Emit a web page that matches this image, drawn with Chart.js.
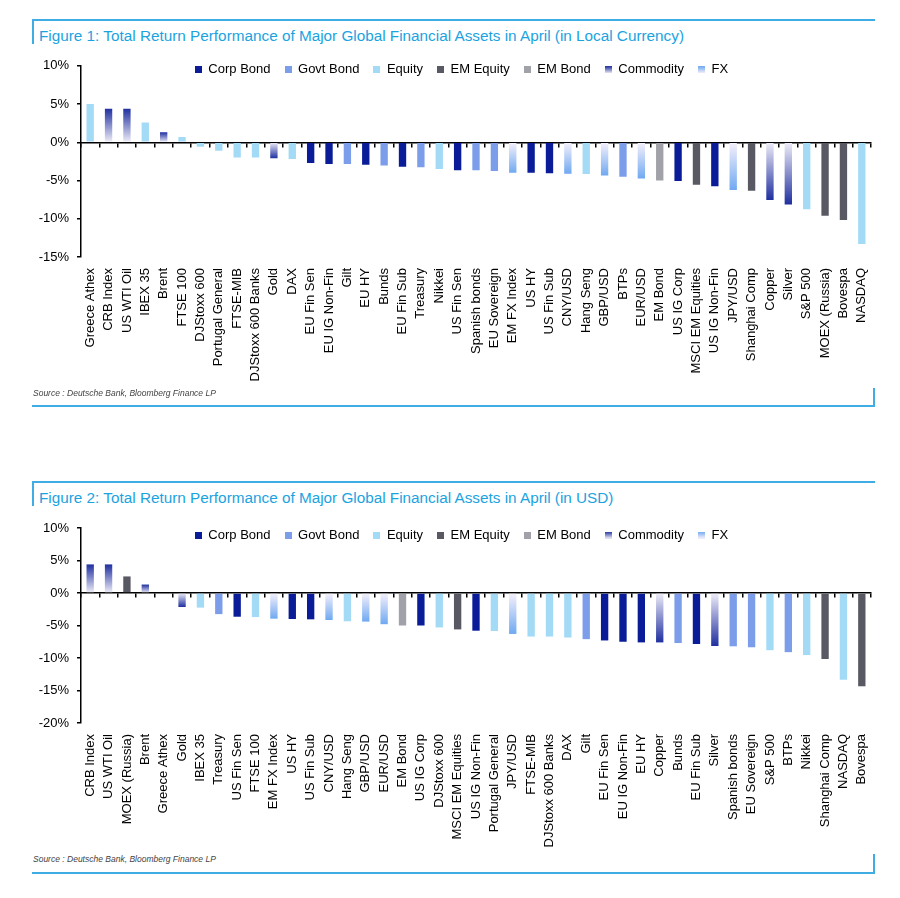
<!DOCTYPE html>
<html>
<head>
<meta charset="utf-8">
<script src="https://cdn.jsdelivr.net/npm/chart.js@4.4.1/dist/chart.umd.min.js"></script>
<style>
  body { margin: 0; background: #fff; width: 900px; height: 898px; position: relative; overflow: hidden; font-family: "Liberation Sans", Arial, sans-serif; }
  .hline { position: absolute; left: 32px; width: 843px; height: 0; border-top: 2px solid #3fade3; }
  .vline { position: absolute; width: 0; border-left: 2px solid #3fade3; }
  .title { position: absolute; left: 39px; font-size: 15.3px; line-height: 17px; color: #1ba3df; white-space: nowrap; }
  .source { position: absolute; left: 33px; font-size: 8.5px; line-height: 10px; font-style: italic; color: #444; white-space: nowrap; }
  canvas { position: absolute; left: 0; }
</style>
</head>
<body>

<div class="hline" style="top:19px"></div>
<div class="vline" style="left:32px; top:19px; height:25px"></div>
<div class="title" style="top:27px">Figure 1: Total Return Performance of Major Global Financial Assets in April (in Local Currency)</div>
<canvas id="localChart" width="900" height="340" style="top:50px"></canvas>
<div class="source" style="top:388px">Source : Deutsche Bank, Bloomberg Finance LP</div>
<div class="vline" style="left:873px; top:388px; height:19px"></div>
<div class="hline" style="top:405px"></div>

<div class="hline" style="top:481px"></div>
<div class="vline" style="left:32px; top:481px; height:25px"></div>
<div class="title" style="top:489px">Figure 2: Total Return Performance of Major Global Financial Assets in April (in USD)</div>
<canvas id="usdChart" width="900" height="340" style="top:512px"></canvas>
<div class="source" style="top:854px">Source : Deutsche Bank, Bloomberg Finance LP</div>
<div class="vline" style="left:873px; top:854px; height:19px"></div>
<div class="hline" style="top:872px"></div>

<script>
const seriesNames = ['Corp Bond', 'Govt Bond', 'Equity', 'EM Equity', 'EM Bond', 'Commodity', 'FX'];
const seriesColors = ['#0a1c98', '#7c9eea', '#a3dbf7', '#595963', '#a1a1a9', '#1f2f9f', '#6fa9f1'];
// commodity and FX bars fade from this colour at the zero line to the series colour
const fadeBase = ['', '', '', '', '', '#efeef8', '#f7f1fb'];

// Figure 1 - local currency
const localAssets = ['Greece Athex', 'CRB Index', 'US WTI Oil', 'IBEX 35', 'Brent', 'FTSE 100', 'DJStoxx 600',
  'Portugal General', 'FTSE-MIB', 'DJStoxx 600 Banks', 'Gold', 'DAX', 'EU Fin Sen', 'EU IG Non-Fin', 'Gilt',
  'EU HY', 'Bunds', 'EU Fin Sub', 'Treasury', 'Nikkei', 'US Fin Sen', 'Spanish bonds', 'EU Sovereign',
  'EM FX Index', 'US HY', 'US Fin Sub', 'CNY/USD', 'Hang Seng', 'GBP/USD', 'BTPs', 'EUR/USD', 'EM Bond',
  'US IG Corp', 'MSCI EM Equities', 'US IG Non-Fin', 'JPY/USD', 'Shanghai Comp', 'Copper', 'Silver',
  'S&P 500', 'MOEX (Russia)', 'Bovespa', 'NASDAQ'];
const localReturns = [5.0, 4.4, 4.4, 2.6, 1.3, 0.7, -0.6,
  -1.1, -2.0, -2.0, -2.1, -2.2, -2.7, -2.85, -2.85,
  -2.95, -3.05, -3.2, -3.25, -3.5, -3.65, -3.65, -3.75,
  -4.0, -4.0, -4.05, -4.1, -4.15, -4.35, -4.5, -4.75, -5.0,
  -5.05, -5.55, -5.75, -6.25, -6.35, -7.55, -8.15,
  -8.75, -9.6, -10.15, -13.3];
const localClass = ['Equity', 'Commodity', 'Commodity', 'Equity', 'Commodity', 'Equity', 'Equity',
  'Equity', 'Equity', 'Equity', 'Commodity', 'Equity', 'Corp Bond', 'Corp Bond', 'Govt Bond',
  'Corp Bond', 'Govt Bond', 'Corp Bond', 'Govt Bond', 'Equity', 'Corp Bond', 'Govt Bond', 'Govt Bond',
  'FX', 'Corp Bond', 'Corp Bond', 'FX', 'Equity', 'FX', 'Govt Bond', 'FX', 'EM Bond',
  'Corp Bond', 'EM Equity', 'Corp Bond', 'FX', 'EM Equity', 'Commodity', 'Commodity',
  'Equity', 'EM Equity', 'EM Equity', 'Equity'];
const localRange = [-15, 10];

// Figure 2 - USD
const usdAssets = ['CRB Index', 'US WTI Oil', 'MOEX (Russia)', 'Brent', 'Greece Athex', 'Gold', 'IBEX 35',
  'Treasury', 'US Fin Sen', 'FTSE 100', 'EM FX Index', 'US HY', 'US Fin Sub', 'CNY/USD', 'Hang Seng',
  'GBP/USD', 'EUR/USD', 'EM Bond', 'US IG Corp', 'DJStoxx 600', 'MSCI EM Equities', 'US IG Non-Fin',
  'Portugal General', 'JPY/USD', 'FTSE-MIB', 'DJStoxx 600 Banks', 'DAX', 'Gilt', 'EU Fin Sen',
  'EU IG Non-Fin', 'EU HY', 'Copper', 'Bunds', 'EU Fin Sub', 'Silver', 'Spanish bonds', 'EU Sovereign',
  'S&P 500', 'BTPs', 'Nikkei', 'Shanghai Comp', 'NASDAQ', 'Bovespa'];
const usdReturns = [4.4, 4.4, 2.55, 1.3, 0.0, -2.15, -2.25,
  -3.25, -3.65, -3.7, -3.95, -4.0, -4.05, -4.15, -4.35,
  -4.4, -4.8, -5.0, -5.0, -5.3, -5.6, -5.8,
  -5.85, -6.3, -6.7, -6.7, -6.85, -7.1, -7.3,
  -7.5, -7.6, -7.6, -7.7, -7.85, -8.15, -8.2, -8.35,
  -8.8, -9.1, -9.55, -10.15, -13.35, -14.35];
const usdClass = ['Commodity', 'Commodity', 'EM Equity', 'Commodity', 'Equity', 'Commodity', 'Equity',
  'Govt Bond', 'Corp Bond', 'Equity', 'FX', 'Corp Bond', 'Corp Bond', 'FX', 'Equity',
  'FX', 'FX', 'EM Bond', 'Corp Bond', 'Equity', 'EM Equity', 'Corp Bond',
  'Equity', 'FX', 'Equity', 'Equity', 'Equity', 'Govt Bond', 'Corp Bond',
  'Corp Bond', 'Corp Bond', 'Commodity', 'Govt Bond', 'Corp Bond', 'Commodity', 'Govt Bond', 'Govt Bond',
  'Equity', 'Govt Bond', 'Equity', 'EM Equity', 'Equity', 'EM Equity'];
const usdRange = [-20, 10];

Chart.defaults.font.family = '"Liberation Sans", Arial, sans-serif';
Chart.defaults.font.size = 13;
Chart.defaults.color = '#000';

function barFill(s) {
  if (!fadeBase[s]) return seriesColors[s];
  return ctx => {
    const chart = ctx.chart;
    const v = ctx.parsed ? ctx.parsed.y : null;
    if (!chart.chartArea || v == null || v === 0) return seriesColors[s];
    const y = chart.scales.y;
    const g = chart.ctx.createLinearGradient(0, y.getPixelForValue(0), 0, y.getPixelForValue(v));
    g.addColorStop(0, fadeBase[s]);
    g.addColorStop(1, seriesColors[s]);
    return g;
  };
}

// little square for the legend, shaded for the two faded series
function swatch(s) {
  const c = document.createElement('canvas');
  c.width = 7;
  c.height = 7;
  const g = c.getContext('2d');
  if (fadeBase[s]) {
    const grad = g.createLinearGradient(0, 7, 0, 0);
    grad.addColorStop(0, fadeBase[s]);
    grad.addColorStop(1, seriesColors[s]);
    g.fillStyle = grad;
  } else {
    g.fillStyle = seriesColors[s];
  }
  g.fillRect(0, 0, 7, 7);
  return c;
}
const swatches = seriesNames.map((n, s) => swatch(s));

// legend sits inside the top of the plot instead of taking its own row
const legendInside = {
  id: 'legendInside',
  beforeLayout(chart) {
    const legend = chart.legend;
    if (legend && !legend.flattened) {
      const fit = legend.fit;
      legend.fit = function () { fit.call(this); this.height = 0; };
      legend.flattened = true;
    }
  },
  afterLayout(chart, args, opts) {
    const legend = chart.legend;
    legend.top = chart.chartArea.top + opts.dy;
    legend.bottom = legend.top + 40;
    legend.height = 40;
    legend.left += opts.dx;
    legend.right += opts.dx;
  }
};

function drawFigure(canvasId, assets, returns, classes, range, frame) {
  const datasets = seriesNames.map((name, s) => ({
    label: name,
    data: returns.map((v, i) => classes[i] === name ? v : null),
    backgroundColor: barFill(s),
    borderWidth: 0,
    grouped: false,
    barPercentage: 0.4,
    categoryPercentage: 1
  }));

  return new Chart(document.getElementById(canvasId), {
    type: 'bar',
    data: { labels: assets, datasets },
    plugins: [legendInside],
    options: {
      responsive: false,
      animation: false,
      layout: { padding: { top: frame.top, right: 29, bottom: 0, left: 0 } },
      plugins: {
        tooltip: { enabled: false },
        legendInside: { dy: frame.legendDy, dx: 26 },
        legend: {
          position: 'top',
          labels: {
            usePointStyle: true,
            boxWidth: 7,
            boxHeight: 7,
            padding: 14,
            color: '#000',
            generateLabels: chart => chart.data.datasets.map((ds, i) => ({
              text: ds.label,
              pointStyle: swatches[i],
              fillStyle: seriesColors[i],
              strokeStyle: 'transparent',
              lineWidth: 0,
              hidden: false,
              datasetIndex: i
            }))
          }
        }
      },
      scales: {
        x: {
          offset: true,
          grid: { display: false },
          border: { display: false },
          ticks: { autoSkip: false, minRotation: 90, maxRotation: 90, padding: 3, color: '#000' },
          afterFit: s => { s.height = frame.axis; }
        },
        zero: {
          type: 'category',
          axis: 'x',
          position: { y: 0 },
          offset: true,
          ticks: { display: false },
          grid: { offset: true, drawOnChartArea: false, tickLength: 4, color: '#000', lineWidth: 1.5 },
          border: { color: '#000', width: 1.5 }
        },
        y: {
          min: range[0],
          max: range[1],
          ticks: { stepSize: 5, padding: 8, color: '#000', callback: v => v + '%' },
          grid: { drawOnChartArea: false, tickLength: 4, color: '#000', lineWidth: 1.5 },
          border: { color: '#000', width: 1.5 },
          afterFit: s => { s.width = 81; }
        }
      }
    }
  });
}

drawFigure('localChart', localAssets, localReturns, localClass, localRange, { top: 15, axis: 133, legendDy: -16.5 });
drawFigure('usdChart', usdAssets, usdReturns, usdClass, usdRange, { top: 16, axis: 129, legendDy: -13.5 });
</script>
</body>
</html>
